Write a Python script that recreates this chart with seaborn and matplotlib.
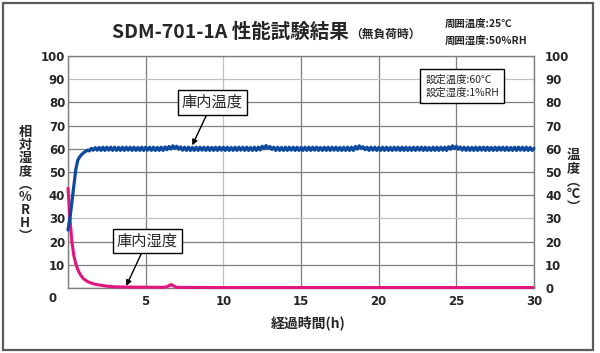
import numpy as np
import pandas as pd
import matplotlib
matplotlib.use("Agg")
import matplotlib.pyplot as plt
from matplotlib.patches import Rectangle
import seaborn as sns

# Chamber temperature (deg C), sampled every 0.125 h from 0 to 30 h
step_h = 0.125
temp_c = [
    25, 30, 37, 44, 51, 55, 56.5, 57.5,
    58.3, 58.8, 59.4, 59.1, 60.2, 59.4, 60.5, 59.4,
    60.6, 59.3, 60.7, 59.3, 60.7, 59.4, 60.7, 59.3,
    60.7, 59.3, 60.6, 59.3, 60.7, 59.3, 60.7, 59.4,
    60.7, 59.3, 60.7, 59.3, 60.6, 59.3, 60.7, 59.3,
    60.7, 59.4, 60.7, 59.3, 60.7, 59.3, 60.6, 59.3,
    60.7, 59.3, 60.8, 59.6, 61.0, 59.9, 61.3, 60.2,
    61.1, 59.8, 60.8, 59.4, 60.7, 59.3, 60.7, 59.3,
    60.6, 59.3, 60.7, 59.3, 60.7, 59.4, 60.7, 59.3,
    60.7, 59.3, 60.6, 59.3, 60.7, 59.3, 60.7, 59.4,
    60.7, 59.3, 60.7, 59.3, 60.6, 59.3, 60.7, 59.3,
    60.7, 59.4, 60.7, 59.3, 60.7, 59.3, 60.6, 59.3,
    60.7, 59.3, 60.7, 59.5, 61.1, 60.0, 61.4, 60.2,
    61.0, 59.7, 60.7, 59.3, 60.7, 59.3, 60.6, 59.3,
    60.7, 59.3, 60.7, 59.4, 60.7, 59.3, 60.7, 59.3,
    60.6, 59.3, 60.7, 59.3, 60.7, 59.3, 60.7, 59.4,
    60.7, 59.3, 60.6, 59.3, 60.7, 59.3, 60.7, 59.3,
    60.7, 59.4, 60.7, 59.3, 60.6, 59.3, 60.7, 59.3,
    60.7, 59.3, 60.7, 59.3, 61.0, 59.9, 61.3, 60.2,
    60.9, 59.6, 60.7, 59.3, 60.7, 59.4, 60.7, 59.3,
    60.6, 59.3, 60.7, 59.3, 60.7, 59.3, 60.6, 59.3,
    60.7, 59.4, 60.7, 59.3, 60.7, 59.3, 60.7, 59.3,
    60.6, 59.3, 60.7, 59.3, 60.7, 59.4, 60.7, 59.3,
    60.7, 59.3, 60.6, 59.3, 60.7, 59.3, 60.7, 59.3,
    60.7, 59.4, 60.7, 59.3, 60.9, 59.8, 61.3, 60.1,
    61.1, 59.8, 60.8, 59.4, 60.7, 59.3, 60.7, 59.3,
    60.6, 59.3, 60.7, 59.3, 60.7, 59.4, 60.7, 59.3,
    60.7, 59.3, 60.6, 59.3, 60.7, 59.3, 60.7, 59.4,
    60.7, 59.3, 60.7, 59.3, 60.6, 59.3, 60.7, 59.3,
    60.7, 59.4, 60.7, 59.3, 60.7, 59.3, 60.6, 59.3,
    60.2,
]

# Chamber humidity (%RH)
hum_hours = [0, 0.125, 0.25, 0.375, 0.5, 0.625, 0.75, 0.875, 1.0, 1.25, 1.5,
             1.75, 2.0, 2.5, 3.0, 4.0, 5.0, 6.0, 6.3, 6.5, 6.65, 6.8, 7.0,
             7.5, 10, 15, 20, 25, 30]
hum_rh = [43, 30, 20, 14, 10.5, 8, 6.3, 5, 4, 2.8, 2.1,
          1.6, 1.3, 0.8, 0.5, 0.4, 0.35, 0.3, 0.4, 1.0, 1.5, 0.9, 0.3,
          0.25, 0.2, 0.2, 0.2, 0.2, 0.2]

y_ticks = list(range(0, 101, 10))
x_ticks = list(range(0, 31, 5))

blue = "#0B4A9E"
pink = "#E2157F"

sns.set_theme(style="white")
plt.rcParams['font.family'] = ['Noto Sans CJK JP', 'DejaVu Sans']

temp_df = pd.DataFrame({"h": np.arange(len(temp_c)) * step_h, "t": temp_c})
hum_df = pd.DataFrame({"h": hum_hours, "rh": hum_rh})

fig = plt.figure(figsize=(6.0, 3.53), dpi=100)
W, H = 600, 353


def fx(x):
    return x / W


def fy(y):
    return 1 - y / H


ax = fig.add_axes([fx(68), fy(288), fx(534) - fx(68), fy(56) - fy(288)])
ax2 = ax.twinx()

sns.lineplot(data=hum_df, x="h", y="rh", ax=ax, color=pink, linewidth=2.2,
             clip_on=False, zorder=4)
sns.lineplot(data=temp_df, x="h", y="t", ax=ax2, color=blue, linewidth=2.3,
             clip_on=False, zorder=4)

for a in (ax, ax2):
    a.set_xlim(0, 30)
    a.set_ylim(0, 100)
    a.set_xlabel("")
    a.set_ylabel("")
    a.set_yticks(y_ticks)
    for s in a.spines.values():
        s.set_color("#7F7F7F")
        s.set_linewidth(1)
        s.set_zorder(1)
ax.spines["right"].set_visible(False)
for side in ("left", "top", "bottom"):
    ax2.spines[side].set_visible(False)

ax.set_xticks(x_ticks)
ax.grid(True, color="#7F7F7F", linewidth=0.9)
ax.set_axisbelow(True)
ax2.grid(False)
# a few lighter grid lines as in the original
ax.get_xgridlines()[2].set_color("#C0C0C0")
ax.get_ygridlines()[3].set_color("#C0C0C0")
ax.get_ygridlines()[9].set_color("#C0C0C0")

tick_font = dict(family="DejaVu Sans", weight="bold", size=8.5)
ax.set_xticklabels([""] + [str(v) for v in x_ticks[1:]], fontdict=tick_font)
ax.set_yticklabels([""] + [str(v) for v in y_ticks[1:]], fontdict=tick_font)
ax2.set_yticklabels([str(v) for v in y_ticks], fontdict=tick_font)
ax.tick_params(axis="x", length=0, pad=5)
ax.tick_params(axis="y", length=0, pad=2)
ax2.tick_params(axis="y", length=0, pad=8)
fig.text(fx(53), fy(299), "0", ha="center", va="center", **tick_font)

# axis titles (vertical Japanese text)
fig.text(fx(308), fy(323), "経過時間(h)", ha="center", va="center",
         fontsize=10, weight="bold")
fig.text(fx(25), fy(184), "\n".join(["相", "対", "湿", "度", "︵", "%", "R", "H", "︶"]),
         ha="center", va="center", fontsize=9.5, weight="bold", linespacing=0.92)
fig.text(fx(573), fy(181), "\n".join(["温", "度", "︵", "℃", "︶"]),
         ha="center", va="center", fontsize=9.5, weight="bold", linespacing=0.92)

# titles
fig.text(fx(112), fy(32), "SDM-701-1A 性能試験結果", ha="left", va="center",
         fontsize=14, weight="bold")
fig.text(fx(350), fy(34), "（無負荷時）", ha="left", va="center",
         fontsize=8.5, weight="bold")
fig.text(fx(445), fy(24), "周囲温度:25℃", ha="left", va="center",
         fontsize=7.5, weight="bold")
fig.text(fx(445), fy(41), "周囲湿度:50%RH", ha="left", va="center",
         fontsize=7.5, weight="bold")

# settings box
fig.text(fx(462), fy(86), "設定温度:60℃\n設定湿度:1%RH", ha="center", va="center",
         fontsize=7.5, multialignment="left", linespacing=1.35,
         bbox=dict(boxstyle="square,pad=0.5", fc="white", ec="black", lw=1))

# callouts
arrow = dict(arrowstyle="-|>", color="black", lw=1, mutation_scale=8,
             shrinkA=0, shrinkB=0)
box = dict(boxstyle="square,pad=0.25", fc="white", ec="black", lw=1)
ax2.annotate("庫内温度", xy=(8.0, 61.5), xytext=(9.3, 80), ha="center", va="center",
             fontsize=11, bbox=box, arrowprops=arrow, zorder=6)
ax2.annotate("庫内湿度", xy=(3.75, 0.9), xytext=(5.1, 20.3), ha="center", va="center",
             fontsize=11, bbox=box, arrowprops=arrow, zorder=6)

# outer frame
fig.patches.append(Rectangle((fx(2.5), fy(350)), fx(590), fy(3) - fy(350),
                             transform=fig.transFigure, fill=False,
                             ec="#5A5A5A", lw=1.6))

fig.savefig("out.png", dpi=100)
